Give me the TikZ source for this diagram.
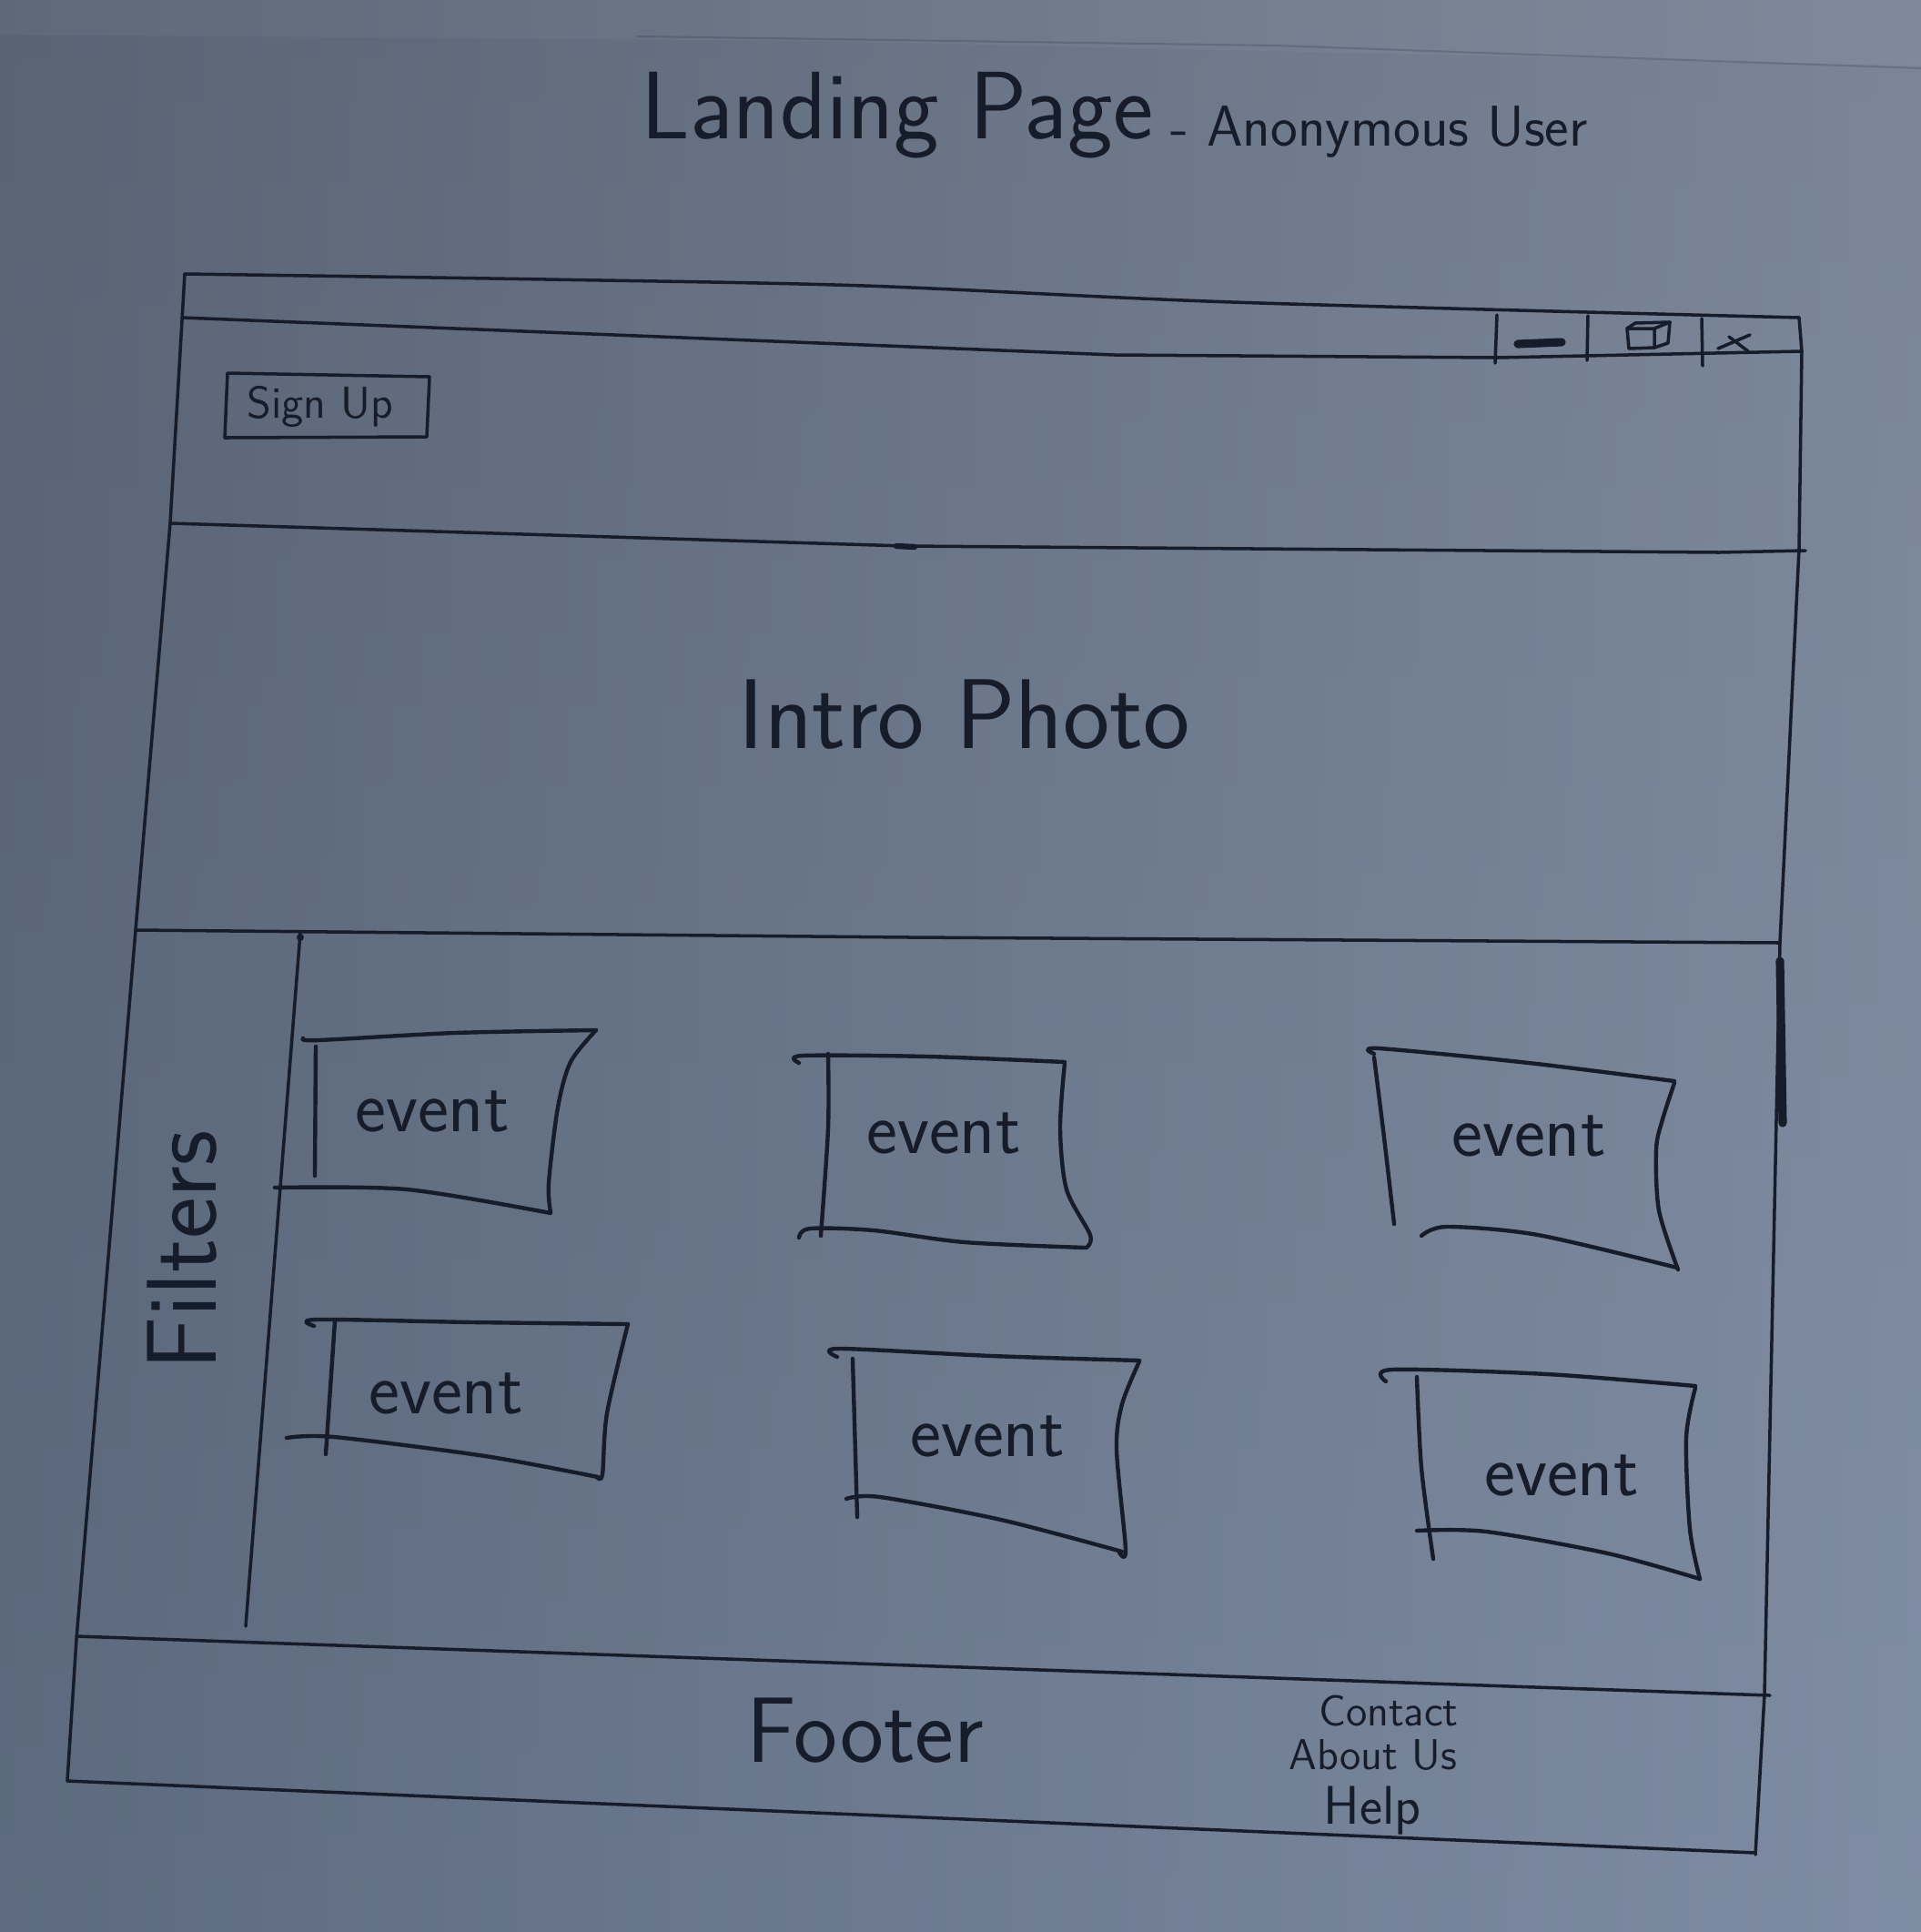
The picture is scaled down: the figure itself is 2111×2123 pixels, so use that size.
\documentclass[tikz,border=0pt]{standalone}
\usepackage{fontspec}
\definecolor{ink}{HTML}{161C2A}
\definecolor{paperT}{HTML}{687180}
\definecolor{paperB}{HTML}{72819A}
\definecolor{paperL}{HTML}{4C586A}
\definecolor{paperR}{HTML}{8A97AC}
\begin{document}
\begin{tikzpicture}[x=0.01cm,y=-0.01cm,line cap=round,line join=round,
  frame/.style={draw=ink,line width=1.0pt},
  pen/.style={draw=ink,line width=1.25pt},
  heavy/.style={draw=ink,line width=2.6pt},
  hand/.style={text=ink,inner sep=0pt,anchor=base,font=\sffamily},
  eventtext/.style={hand,font=\sffamily\fontsize{23}{25}\selectfont},
]
\useasboundingbox (0,0) rectangle (2111,2123);
% paper
\shade[top color=paperT,bottom color=paperB] (0,0) rectangle (2111,2123);
\shade[left color=paperL,right color=paperR,opacity=0.55] (0,0) rectangle (2111,2123);
\fill[white,opacity=0.04] (0,0) -- (2111,0) -- (2111,72) -- (900,45) -- (0,38) -- cycle;
\draw[ink,opacity=0.18,line width=0.6pt] (700,40) -- (1400,50) -- (2111,75);

% heading
\node[hand,anchor=base west,font=\sffamily\fontsize{30}{32}\selectfont] (title) at (704,152) {Landing Page};
\node[hand,anchor=base west,font=\sffamily\fontsize{18}{20}\selectfont] (subtitle) at (1286,160) {- Anonymous User};

% browser window: title bar
\draw[frame] plot[smooth,tension=0.5] coordinates {(203,301) (600,307) (950,314) (1354,332) (1977,349)};
\draw[frame] (200,349) -- (1225,390) -- (1645,393) -- (1980,386);
\draw[frame] (1977,349) -- (1980,386);
\draw[frame] (1645,346) -- (1643,399);
\draw[frame] (1745,347) -- (1744,396);
\draw[frame] (1870,350) -- (1871,402);
% window buttons
\draw[heavy] (1668,378) -- (1716,376);
\draw[frame] (1788,361) -- (1818,361) -- (1818,382) -- (1790,383) -- cycle;
\draw[frame] (1788,361) -- (1797,355) -- (1835,354) -- (1833,377) -- (1818,382);
\draw[frame] (1818,361) -- (1835,354);
\draw[frame] (1888,383) -- (1923,368);
\draw[frame] (1900,370) -- (1921,386);

% outer borders
\draw[frame] (203,301) -- (187,575) -- (149,1022) -- (84,1801) -- (74,1957);
\draw[frame] (1980,386) -- (1977,603) -- (1956,1036) -- (1939,1862) -- (1929,2038);
% scrollbar thumb
\draw[heavy] (1956,1056) -- (1959,1234);

% header section
\draw[frame] (187,575) -- (995,600) -- (1889,607) -- (1984,605);
\draw[heavy,line width=1.8pt] (985,600) -- (1005,601);
\draw[frame] (250,410) -- (472,414) -- (469,480) -- (247,481) -- cycle;
\node[hand,font=\sffamily\fontsize{14}{16}\selectfont] (signup) at (352,459) {Sign Up};

% intro photo section
\draw[frame] (149,1022) -- (1000,1030) -- (1956,1036);
\node[hand,font=\sffamily\fontsize{31}{33}\selectfont] (intro) at (1060,822) {Intro Photo};

% filters column
\draw[frame] (330,1025) -- (270,1787);
\fill[ink] (330,1030) circle (4);
\node[hand,rotate=90,font=\sffamily\fontsize{31}{33}\selectfont\addfontfeature{LetterSpace=14}] (filters) at (237,1374) {Filters};

% event cards
\draw[pen] plot[smooth,tension=0.5] coordinates {(333,1141) (350,1143) (500,1135) (655,1132)};
\draw[pen] plot[smooth,tension=0.5] coordinates {(655,1132) (627,1167) (613,1217) (603,1300) (605,1332)};
\draw[pen] plot[smooth,tension=0.5] coordinates {(302,1305) (447,1307) (605,1333)};
\draw[pen] (347,1150) -- (346,1292);
\node[eventtext] (ev1) at (475,1243) {event};

\draw[pen] plot[smooth,tension=0.5] coordinates {(878,1168) (882,1160) (1020,1161) (1170,1167)};
\draw[pen] plot[smooth,tension=0.5] coordinates {(1170,1168) (1165,1240) (1172,1307) (1198,1357) (1194,1371)};
\draw[pen] plot[smooth,tension=0.5] coordinates {(878,1360) (890,1350) (960,1352) (1060,1365) (1193,1371)};
\draw[pen] plot[smooth,tension=0.5] coordinates {(910,1158) (910,1240) (902,1358)};
\node[eventtext] (ev2) at (1037,1267) {event};

\draw[pen] plot[smooth,tension=0.5] coordinates {(1510,1158) (1515,1152) (1680,1168) (1840,1188)};
\draw[pen] plot[smooth,tension=0.5] coordinates {(1510,1162) (1521,1250) (1532,1345)};
\draw[pen] plot[smooth,tension=0.5] coordinates {(1840,1190) (1827,1230) (1820,1263) (1823,1330) (1844,1395)};
\draw[pen] plot[smooth,tension=0.5] coordinates {(1562,1358) (1590,1348) (1690,1357) (1843,1393)};
\node[eventtext] (ev3) at (1680,1270) {event};

\draw[pen] plot[smooth,tension=0.5] coordinates {(345,1457) (348,1450) (520,1453) (690,1455)};
\draw[pen] plot[smooth,tension=0.5] coordinates {(690,1455) (667,1553) (662,1620) (656,1623)};
\draw[pen] plot[smooth,tension=0.5] coordinates {(315,1580) (367,1579) (533,1600) (657,1623)};
\draw[pen] (368,1452) -- (358,1598);
\node[eventtext] (ev4) at (490,1553) {event};

\draw[pen] plot[smooth,tension=0.5] coordinates {(920,1491) (922,1482) (1090,1490) (1252,1495)};
\draw[pen] plot[smooth,tension=0.5] coordinates {(1252,1496) (1233,1543) (1227,1593) (1237,1703) (1230,1706)};
\draw[pen] plot[smooth,tension=0.5] coordinates {(930,1647) (967,1645) (1100,1670) (1233,1705)};
\draw[pen] (937,1493) -- (942,1667);
\node[eventtext] (ev5) at (1085,1600) {event};

\draw[pen] plot[smooth,tension=0.5] coordinates {(1523,1518) (1530,1505) (1700,1510) (1863,1523)};
\draw[pen] plot[smooth,tension=0.5] coordinates {(1863,1525) (1853,1580) (1857,1680) (1868,1735)};
\draw[pen] plot[smooth,tension=0.5] coordinates {(1557,1682) (1633,1683) (1767,1707) (1868,1735)};
\draw[pen] plot[smooth,tension=0.5] coordinates {(1557,1513) (1562,1613) (1575,1713)};
\node[eventtext] (ev6) at (1716,1643) {event};

% footer
\draw[frame] (84,1798) -- (1945,1863);
\draw[frame] (74,1957) -- (1929,2036);
\node[hand,font=\sffamily\fontsize{29}{31}\selectfont] (footer) at (951,1936) {Footer};
\node[hand,font=\sffamily\fontsize{13.5}{15}\selectfont] (contact) at (1526,1896) {Contact};
\node[hand,font=\sffamily\fontsize{13.5}{15}\selectfont] (about) at (1509,1944) {About Us};
\node[hand,font=\sffamily\fontsize{17}{19}\selectfont] (help) at (1508,2004) {Help};
\end{tikzpicture}
\end{document}
